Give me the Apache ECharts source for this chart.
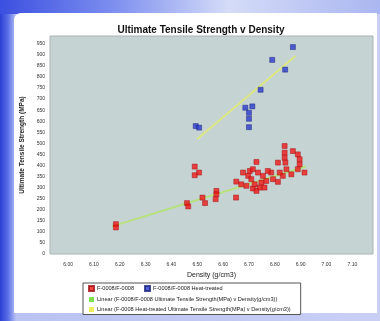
<!DOCTYPE html>
<html>
<head>
<meta charset="utf-8">
<script src="https://cdn.jsdelivr.net/npm/echarts@6/dist/echarts.min.js"></script>
<style>
  html, body { margin: 0; padding: 0; width: 380px; height: 321px; overflow: hidden; }
  #frame {
    position: absolute; left: 0; top: 0; width: 380px; height: 321px;
    background: linear-gradient(90deg, #2b3fd6 0px, #5a6ee8 8px, #b9c2f2 16px, #c9cff4 100%);
  }
  #banner {
    position: absolute; left: 0; top: 0; width: 380px; height: 14px;
    background: linear-gradient(90deg, #3b4fe0 0px, #7d8fef 30%, #d5dcf8 60%, #aab6f0 100%);
  }
  #panel {
    position: absolute; left: 14px; top: 13px; width: 363px; height: 300px;
    background: #ffffff; border-top-left-radius: 7px;
  }
  #chart { position: absolute; left: 0; top: 0; width: 380px; height: 321px; }
</style>
</head>
<body>
<div id="frame"></div>
<div id="banner"></div>
<div id="panel"></div>
<div id="chart"></div>
<script>
// values
const xTicks = [6.0, 6.1, 6.2, 6.3, 6.4, 6.5, 6.6, 6.7, 6.8, 6.9, 7.0, 7.1]
const yTicks = [0, 50, 100, 150, 200, 250, 300, 350, 400, 450, 500, 550, 600, 650, 700, 750, 800, 850, 900, 950]

const redDensity = [6.185, 6.185, 6.46, 6.465, 6.49, 6.507, 6.49, 6.52, 6.53, 6.574, 6.574, 6.571, 6.65,
  6.651, 6.670, 6.690, 6.703, 6.715, 6.697, 6.709, 6.715, 6.729, 6.741, 6.735, 6.754, 6.748, 6.767,
  6.729, 6.786, 6.793, 6.812, 6.812, 6.831, 6.838, 6.838, 6.838, 6.841, 6.845, 6.870, 6.889, 6.896,
  6.896, 6.889, 6.915, 6.864, 6.819, 6.773, 6.677, 6.722, 6.760]
const redStrength = [135, 120, 230, 215, 395, 368, 356, 255, 230, 285, 270, 248, 255,
  327, 315, 308, 375, 383, 353, 338, 296, 285, 300, 368, 353, 323, 330,
  416, 368, 338, 326, 413, 353, 488, 458, 435, 413, 383, 465, 450, 428,
  405, 383, 368, 360, 368, 375, 368, 315, 300]

const blueDensity = [6.494, 6.507, 6.70, 6.70, 6.70, 6.686, 6.713, 6.745, 6.84, 6.79, 6.87]
const blueStrength = [578, 571, 573, 611, 638, 661, 667, 742, 833, 877, 935]

// trend line end points
const redTrendDensity = [6.17, 6.92]
const redTrendStrength = [125, 395]
const blueTrendDensity = [6.50, 6.88]
const blueTrendStrength = [520, 895]

const seriesNames = [
  'F-0008/F-0008',
  'F-0008/F-0008 Heat-treated',
  'Linear (F-0008/F-0008 Ultimate Tensile Strength(MPa) v Density(g/cm3))',
  'Linear (F-0008 Heat-treated Ultimate Tensile Strength(MPa) v Density(g/cm3))'
]

const zip = (a, b) => a.map((v, i) => [v, b[i]])

const chart = echarts.init(document.getElementById('chart'), null, { renderer: 'canvas' })

const option = {
  backgroundColor: 'transparent',
  animation: false,
  title: {
    text: 'Ultimate Tensile Strength v Density',
    left: 196,
    textAlign: 'center',
    top: 20,
    textStyle: { fontFamily: 'Liberation Sans', fontSize: 10, fontWeight: 'bold', color: '#111' }
  },
  grid: {
    left: 50, right: 7, top: 36, bottom: 67,
    show: true,
    backgroundColor: '#c6d3d3',
    borderColor: '#a9b5b5',
    borderWidth: 1
  },
  legend: {
    left: 83, top: 283, width: 222,
    orient: 'horizontal',
    itemWidth: 5, itemHeight: 5, itemGap: 4,
    padding: [2, 4, 2, 5],
    borderColor: '#555', borderWidth: 1,
    backgroundColor: '#fff',
    data: seriesNames.map(n => ({ name: n, icon: 'rect' })),
    textStyle: { fontFamily: 'Liberation Sans', fontSize: 5.6, lineHeight: 6, color: '#222', padding: [0, 6, 0, -2] }
  },
  xAxis: {
    type: 'value',
    min: 5.93, max: 7.18,
    name: 'Density (g/cm3)',
    nameLocation: 'middle',
    nameGap: 18,
    nameTextStyle: { fontFamily: 'Liberation Sans', fontSize: 7, color: '#222' },
    axisLine: { show: false },
    axisTick: { show: false },
    splitLine: { show: false },
    axisLabel: {
      customValues: xTicks,
      formatter: v => v.toFixed(2),
      fontFamily: 'Liberation Sans', fontSize: 5, color: '#333', margin: 8
    }
  },
  yAxis: {
    type: 'value',
    min: 0, max: 985,
    name: 'Ultimate Tensile Strength (MPa)',
    nameLocation: 'middle',
    nameGap: 22,
    nameTextStyle: { fontFamily: 'Liberation Sans', fontSize: 6.5, fontWeight: 'bold', color: '#222' },
    axisLine: { show: false },
    axisTick: { show: false },
    splitLine: { show: false },
    axisLabel: {
      customValues: yTicks,
      fontFamily: 'Liberation Sans', fontSize: 5, color: '#333', margin: 5
    }
  },
  series: [
    {
      name: seriesNames[0],
      type: 'scatter',
      data: zip(redDensity, redStrength),
      symbol: 'rect',
      symbolSize: 5,
      itemStyle: { color: '#f01818', borderColor: '#a01010', borderWidth: 0.6 },
      z: 3
    },
    {
      name: seriesNames[1],
      type: 'scatter',
      data: zip(blueDensity, blueStrength),
      symbol: 'rect',
      symbolSize: 5,
      itemStyle: { color: '#2a3bd0', borderColor: '#1a237a', borderWidth: 0.6 },
      z: 3
    },
    {
      name: seriesNames[2],
      type: 'line',
      data: zip(redTrendDensity, redTrendStrength),
      symbol: 'none',
      lineStyle: { color: '#b6e27c', width: 2 },
      itemStyle: { color: '#7ee04a' },
      z: 2
    },
    {
      name: seriesNames[3],
      type: 'line',
      data: zip(blueTrendDensity, blueTrendStrength),
      symbol: 'none',
      lineStyle: { color: '#dbe781', width: 2 },
      itemStyle: { color: '#eef05a' },
      z: 2
    }
  ]
}

chart.setOption(option)
</script>
</body>
</html>
